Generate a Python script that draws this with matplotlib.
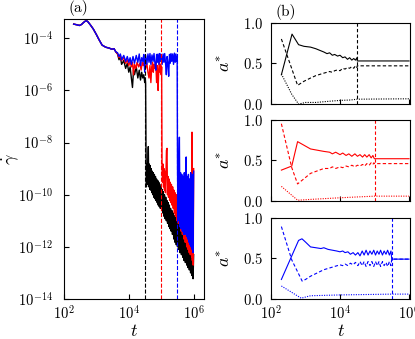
import matplotlib
matplotlib.use('Agg')
import matplotlib.pyplot as plt
from matplotlib.ticker import FixedLocator, NullLocator

plt.rcParams.update({
    'font.family': 'serif',
    'font.serif': ['cmr10'],
    'mathtext.fontset': 'cm',
    'axes.formatter.use_mathtext': True,
    'font.size': 11,
    'xtick.labelsize': 10.5,
    'ytick.labelsize': 10.5,
    'xtick.direction': 'in',
    'ytick.direction': 'in',
    'xtick.major.pad': 4,
    'ytick.major.pad': 6,
})

# ---- panel (a): shear rate vs time ----
t_early = [200, 250, 300, 350, 400, 450, 500, 550, 650, 800, 1000, 1200, 1500, 1800,
           2000, 2500, 3000, 3500, 4000]
g_early = [3.5e-4, 3.3e-4, 3.1e-4, 3.4e-4, 4.0e-4, 4.5e-4, 4.7e-4, 4.3e-4, 3.3e-4, 2.3e-4,
           1.4e-4, 9e-5, 5.5e-5, 4.8e-5, 4.5e-5, 4.2e-5, 3.8e-5, 4e-5, 3e-5]

t_black = [4500, 5000, 5500, 6000, 7000, 8000, 9000, 10000, 11000, 12000, 13000, 14000,
           15000, 17000, 19000, 21000, 23000, 25000, 27000, 29000, 31000, 32000, 33000,
           34000, 35000, 36000, 37000, 38500, 40000, 41500, 43000, 44500, 46000, 47500,
           49000, 51000, 53000, 55000, 57000, 59000, 61500, 64000, 66500, 69000, 72000,
           75000, 78000, 81000, 84000, 87000, 90000, 94000, 98000, 102000, 106000, 111000,
           116000, 121000, 126000, 132000, 138000, 144000, 150000, 157000, 164000, 171000,
           178000, 186000, 194000, 203000, 212000, 222000, 232000, 243000, 254000, 266000,
           278000, 291000, 305000, 318000, 333000, 349000, 365000, 382000, 400000, 420000,
           440000, 460000, 480000, 505000, 530000, 555000, 580000, 610000, 640000, 670000,
           700000, 735000, 770000, 805000, 840000, 880000, 920000, 960000, 1000000]
g_black = [2.5e-5, 1.5e-5, 2e-5, 1e-5, 1.4e-5, 7e-6, 1.1e-5, 5e-6, 8e-6, 3e-6, 1.3e-6, 6e-6,
           4e-6, 8e-6, 3e-6, 6e-6, 2.5e-6, 5e-6, 3e-6, 4e-6, 2e-6, 3e-6, 2e-6,
           5e-9, 2e-10, 1.5e-9, 2.5e-10, 1.2e-9, 7e-9, 2e-10, 1.5e-9, 1.6e-10, 1.3e-9, 1.5e-10,
           1e-9, 1.2e-10, 8e-10, 1e-10, 7e-10, 8e-11, 6e-10, 7e-11, 5e-10, 6e-11, 4e-10,
           5e-11, 3.5e-10, 4e-11, 3e-10, 3.5e-11, 2.5e-10, 3e-11, 2e-10, 3e-11, 1.6e-10, 2e-11,
           1.3e-10, 1.5e-11, 1e-10, 1.2e-11, 8e-11, 1e-11, 6e-11, 8e-12, 5e-11, 6e-12,
           4e-11, 5e-12, 3e-11, 4e-12, 2.5e-11, 3e-12, 2e-11, 2e-12, 1.6e-11, 1.5e-12,
           1.3e-11, 1.2e-12, 1e-11, 1e-12, 1.5e-11, 8e-13, 1.2e-11, 6e-13, 8e-12, 5e-13,
           6e-12, 4e-13, 5e-12, 3e-13, 4e-12, 2.5e-13, 3e-12, 2e-13, 2.5e-12, 1.6e-13,
           2e-12, 1.3e-13, 1.5e-12, 1e-13, 1.2e-12, 8e-14, 8e-13, 6e-14, 5e-13]

t_red = [4500, 5000, 5500, 6000, 7000, 8000, 9000, 10000, 11000, 12000, 13000, 14000, 15000,
         16500, 18000, 20000, 22000, 24000, 26000, 28000, 30000, 33000, 36000, 39000, 42000,
         45000, 48000, 51000, 54000, 57000, 60000, 64000, 68000, 72000, 76000, 80000, 84000,
         88000, 92000, 96000, 100000, 103000, 106000, 110000, 114000, 118000, 122000, 126000,
         130000, 135000, 140000, 145000, 151000, 156000, 162000, 168000, 175000, 182000,
         190000, 198000, 206000, 215000, 225000, 235000, 245000, 255000, 265000, 275000,
         290000, 305000, 320000, 335000, 350000, 370000, 390000, 410000, 430000, 450000,
         475000, 500000, 525000, 550000, 580000, 610000, 640000, 670000, 700000, 730000,
         760000, 790000, 830000, 870000, 890000, 910000, 940000, 970000, 1000000]
g_red = [2.5e-5, 1.8e-5, 2.2e-5, 1.4e-5, 1.8e-5, 1.1e-5, 1.5e-5, 9e-6, 1.3e-5, 8e-6, 1.2e-5,
         4e-6, 1e-5, 7e-6, 1.2e-5, 8e-6, 1.1e-5, 6e-6, 1.2e-5, 9e-6, 1.3e-5, 7e-6, 1.1e-5,
         5e-6, 3e-6, 9e-6, 2e-6, 8e-6, 1.2e-5, 5e-6, 1e-5, 7e-6, 1.2e-5, 2e-6, 9e-6, 1e-6,
         6e-6, 1.2e-5, 5e-6, 1e-5, 4e-6, 8e-6, 1e-9, 3e-10, 1.5e-9, 2e-10, 1e-9, 1.5e-10,
         8e-10, 1.2e-10, 6e-10, 5e-9, 6e-9, 1e-10, 5e-10, 8e-11, 4e-10, 6e-11,
         3e-10, 5e-11, 2.5e-10, 4e-11, 2e-10, 3e-11, 1.5e-10, 2e-11, 1.2e-10, 1.5e-11,
         1e-10, 1e-11, 8e-11, 8e-12, 1.2e-10, 6e-12, 6e-11, 4e-12, 5e-11, 3e-12,
         4e-11, 2e-12, 3e-11, 1.5e-12, 2.5e-11, 1e-12, 2e-11, 8e-13, 1.5e-11, 6e-13,
         1e-11, 5e-13, 8e-12, 4e-13, 2.5e-8, 3e-13, 6e-12, 2e-13, 1e-9]

t_blue = [4500, 5000, 5500, 6000, 7000, 8000, 9000, 10000, 11000, 12000, 13500, 15000, 17000,
          19000, 21000, 23000, 25000, 27000, 29000, 31000, 33000, 36000, 39000, 42000, 45000,
          48000, 52000, 56000, 60000, 64000, 68000, 72000, 76000, 80000, 85000, 90000, 95000,
          100000, 107000, 114000, 121000, 128000, 136000, 144000, 152000, 160000, 170000,
          180000, 190000, 200000, 212000, 225000, 240000, 255000, 270000, 285000, 300000,
          310000, 318000, 330000, 345000, 363000, 380000, 395000, 410000, 430000, 450000,
          470000, 490000, 515000, 540000, 565000, 589000, 610000, 635000, 660000, 690000,
          720000, 750000, 780000, 810000, 840000, 870000, 900000, 930000, 960000, 1000000]
g_blue = [2.8e-5, 2e-5, 2.5e-5, 1.5e-5, 2.2e-5, 1.3e-5, 2e-5, 1.2e-5, 1.8e-5, 1e-5, 2e-5,
          1.1e-5, 2.2e-5, 1.2e-5, 2.5e-5, 9e-6, 1.8e-5, 1.3e-5, 2.4e-5, 5e-6, 2.2e-5, 1e-5,
          2.5e-5, 1.2e-5, 2.6e-5, 1e-5, 2.3e-5, 1.3e-5, 2.6e-5, 1.1e-5, 6e-6, 2.4e-5, 1.2e-5,
          2.5e-5, 1e-5, 2.6e-5, 1.3e-5, 2.4e-5, 1e-5, 2.5e-5, 1.2e-5, 2.6e-5, 1.1e-5, 4e-6,
          2e-5, 1.2e-5, 3.5e-6, 2.4e-5, 1.1e-5, 2.6e-5, 1.3e-5, 2.5e-5, 1e-5, 2.7e-5, 1.2e-5,
          2.5e-5, 1.3e-5, 2e-5, 1e-9, 1e-11, 8e-10, 1.6e-8, 6e-12, 7e-10, 5e-12, 6e-10,
          4e-12, 5e-10, 3e-12, 7e-10, 3e-12, 4e-10, 2.8e-9, 2.5e-12, 5e-10, 2e-12, 6e-10,
          1.5e-12, 4e-10, 1.2e-12, 7e-10, 1e-12, 5e-10, 8e-13, 6e-10, 6e-13, 8e-10]

t_stop = [3.16e4, 1.0e5, 3.16e5]
colors = ['black', 'red', 'blue']

# ---- panel (b): a* components ----
tb_solid = [200, 407, 630, 900, 1400, 2000, 2600, 3400, 4200, 5000, 6000, 7000, 8500, 10000,
            12000, 14000, 16500, 19000, 22000, 25000, 28000, 31000, 31600, 1000000]
ab_solid = [0.36, 0.86, 0.73, 0.71, 0.70, 0.68, 0.66, 0.64, 0.62, 0.63, 0.60, 0.61, 0.59,
            0.60, 0.57, 0.58, 0.55, 0.57, 0.54, 0.56, 0.54, 0.57, 0.53, 0.53]
tb_dash = [200, 590, 900, 1400, 2000, 3400, 5000, 6000, 7000, 8500, 10000, 12000, 14000,
           16500, 19000, 22000, 25000, 28000, 31000, 31600, 1000000]
ab_dash = [0.80, 0.23, 0.28, 0.32, 0.35, 0.38, 0.40, 0.39, 0.41, 0.42, 0.41, 0.44, 0.43,
           0.45, 0.44, 0.46, 0.44, 0.47, 0.45, 0.47, 0.47]
tb_dot = [200, 400, 630, 1000, 2000, 5000, 10000, 20000, 31600, 1000000]
ab_dot = [0.37, 0.12, 0.0, 0.02, 0.02, 0.035, 0.045, 0.05, 0.06, 0.065]

tr_solid = [200, 400, 590, 1400, 3400, 5000, 6000, 7500, 10000, 12000, 15000, 18000, 22000,
            27000, 32000, 38000, 45000, 52000, 60000, 70000, 80000, 90000, 96000, 100000,
            1000000]
ar_solid = [0.38, 0.43, 0.73, 0.64, 0.61, 0.60, 0.58, 0.60, 0.57, 0.59, 0.56, 0.58, 0.55,
            0.58, 0.55, 0.57, 0.54, 0.57, 0.54, 0.57, 0.53, 0.56, 0.53, 0.52, 0.52]
tr_dash = tr_solid
ar_dash = [0.95, 0.41, 0.21, 0.34, 0.40, 0.40, 0.42, 0.40, 0.42, 0.41, 0.43, 0.42, 0.44,
           0.42, 0.44, 0.43, 0.45, 0.43, 0.46, 0.44, 0.47, 0.45, 0.47, 0.46, 0.46]
tr_dot = [200, 590, 1400, 10000, 100000, 1000000]
ar_dot = [0.18, 0.01, 0.02, 0.04, 0.06, 0.06]

tl_solid = [200, 630, 790, 1000, 1400, 2000, 2800, 3400, 4500, 6000, 8000, 10000, 12000,
            14000, 17000, 20000, 24000, 28000, 33000, 38000, 44000, 50000, 57000, 65000,
            74000, 84000, 95000, 107000, 120000, 135000, 150000, 170000, 190000, 215000,
            240000, 270000, 300000, 316000, 1000000]
al_solid = [0.24, 0.72, 0.74, 0.70, 0.64, 0.63, 0.62, 0.63, 0.61, 0.60, 0.59, 0.58, 0.59,
            0.57, 0.58, 0.55, 0.57, 0.54, 0.57, 0.53, 0.59, 0.54, 0.60, 0.54, 0.59, 0.55,
            0.60, 0.54, 0.59, 0.55, 0.60, 0.54, 0.59, 0.55, 0.60, 0.54, 0.59, 0.49, 0.49]
tl_dash = [200, 400, 800, 1000, 1400, 3400, 10000, 12000, 14000, 17000, 20000, 24000, 28000,
           33000, 38000, 44000, 50000, 57000, 65000, 74000, 84000, 95000, 107000, 120000,
           135000, 150000, 170000, 190000, 215000, 240000, 270000, 300000, 316000, 1000000]
al_dash = [0.89, 0.48, 0.22, 0.24, 0.28, 0.36, 0.42, 0.41, 0.43, 0.41, 0.44, 0.42, 0.45,
           0.41, 0.46, 0.41, 0.46, 0.40, 0.46, 0.41, 0.46, 0.40, 0.46, 0.41, 0.46, 0.40,
           0.46, 0.41, 0.45, 0.40, 0.46, 0.41, 0.49, 0.49]
tl_dot = [200, 750, 1400, 10000, 316000, 1000000]
al_dot = [0.16, 0.01, 0.04, 0.05, 0.06, 0.06]

fig = plt.figure(figsize=(4.15, 3.39), dpi=100)

ax = fig.add_axes([0.154, 0.118, 0.337, 0.826])
ax.plot(t_early + t_black, g_early + g_black, color='black', lw=1.0)
ax.plot(t_early + t_red, g_early + g_red, color='red', lw=1.0)
ax.plot(t_early + t_blue, g_early + g_blue, color='blue', lw=1.0)
for ts, c in zip(t_stop, colors):
    ax.axvline(ts, color=c, ls='--', lw=0.8)
ax.set_xscale('log')
ax.set_yscale('log')
ax.set_xlim(100, 2.05e6)
ax.set_ylim(1e-14, 5.5e-4)
ax.xaxis.set_major_locator(FixedLocator([1e2, 1e4, 1e6]))
ax.yaxis.set_major_locator(FixedLocator([1e-14, 1e-12, 1e-10, 1e-8, 1e-6, 1e-4]))
ax.xaxis.set_minor_locator(NullLocator())
ax.yaxis.set_minor_locator(NullLocator())
ax.tick_params(axis='y', pad=8)
ax.set_xlabel('$t$', fontsize=13, labelpad=0)
ax.set_ylabel(r'$\dot{\gamma}$', fontsize=13)
ax.yaxis.set_label_coords(-0.31, 0.5)
ax.text(0.03, 1.01, '(a)', transform=ax.transAxes, fontsize=11, va='bottom')

panels = [
    (0.693, tb_solid, ab_solid, tb_dash, ab_dash, tb_dot, ab_dot, 'black', t_stop[0]),
    (0.407, tr_solid, ar_solid, tr_dash, ar_dash, tr_dot, ar_dot, 'red', t_stop[1]),
    (0.118, tl_solid, al_solid, tl_dash, al_dash, tl_dot, al_dot, 'blue', t_stop[2]),
]
for i, (bot, ts, a_s, td, a_d, tdo, a_do, c, tstop) in enumerate(panels):
    bx = fig.add_axes([0.653, bot, 0.335, 0.24])
    bx.plot(ts, a_s, color=c, lw=0.8, ls='-')
    bx.plot(td, a_d, color=c, lw=0.8, ls=(0, (3, 2)))
    bx.plot(tdo, a_do, color=c, lw=0.8, ls=(0, (1, 1.2)))
    bx.axvline(tstop, color=c, ls=(0, (3, 2)), lw=0.8)
    bx.set_xscale('log')
    bx.set_xlim(100, 1.07e6)
    bx.set_ylim(0, 1)
    bx.xaxis.set_major_locator(FixedLocator([1e2, 1e4, 1e6]))
    bx.xaxis.set_minor_locator(NullLocator())
    bx.set_yticks([0.0, 0.5, 1.0])
    bx.set_ylabel('$a^{*}$', fontsize=13)
    bx.yaxis.set_label_coords(-0.27, 0.5)
    if i < 2:
        bx.set_xticklabels([])
    else:
        bx.set_xlabel('$t$', fontsize=13, labelpad=0)
    if i == 0:
        bx.text(0.03, 1.03, '(b)', transform=bx.transAxes, fontsize=11, va='bottom')

fig.savefig('out.png', dpi=100)
